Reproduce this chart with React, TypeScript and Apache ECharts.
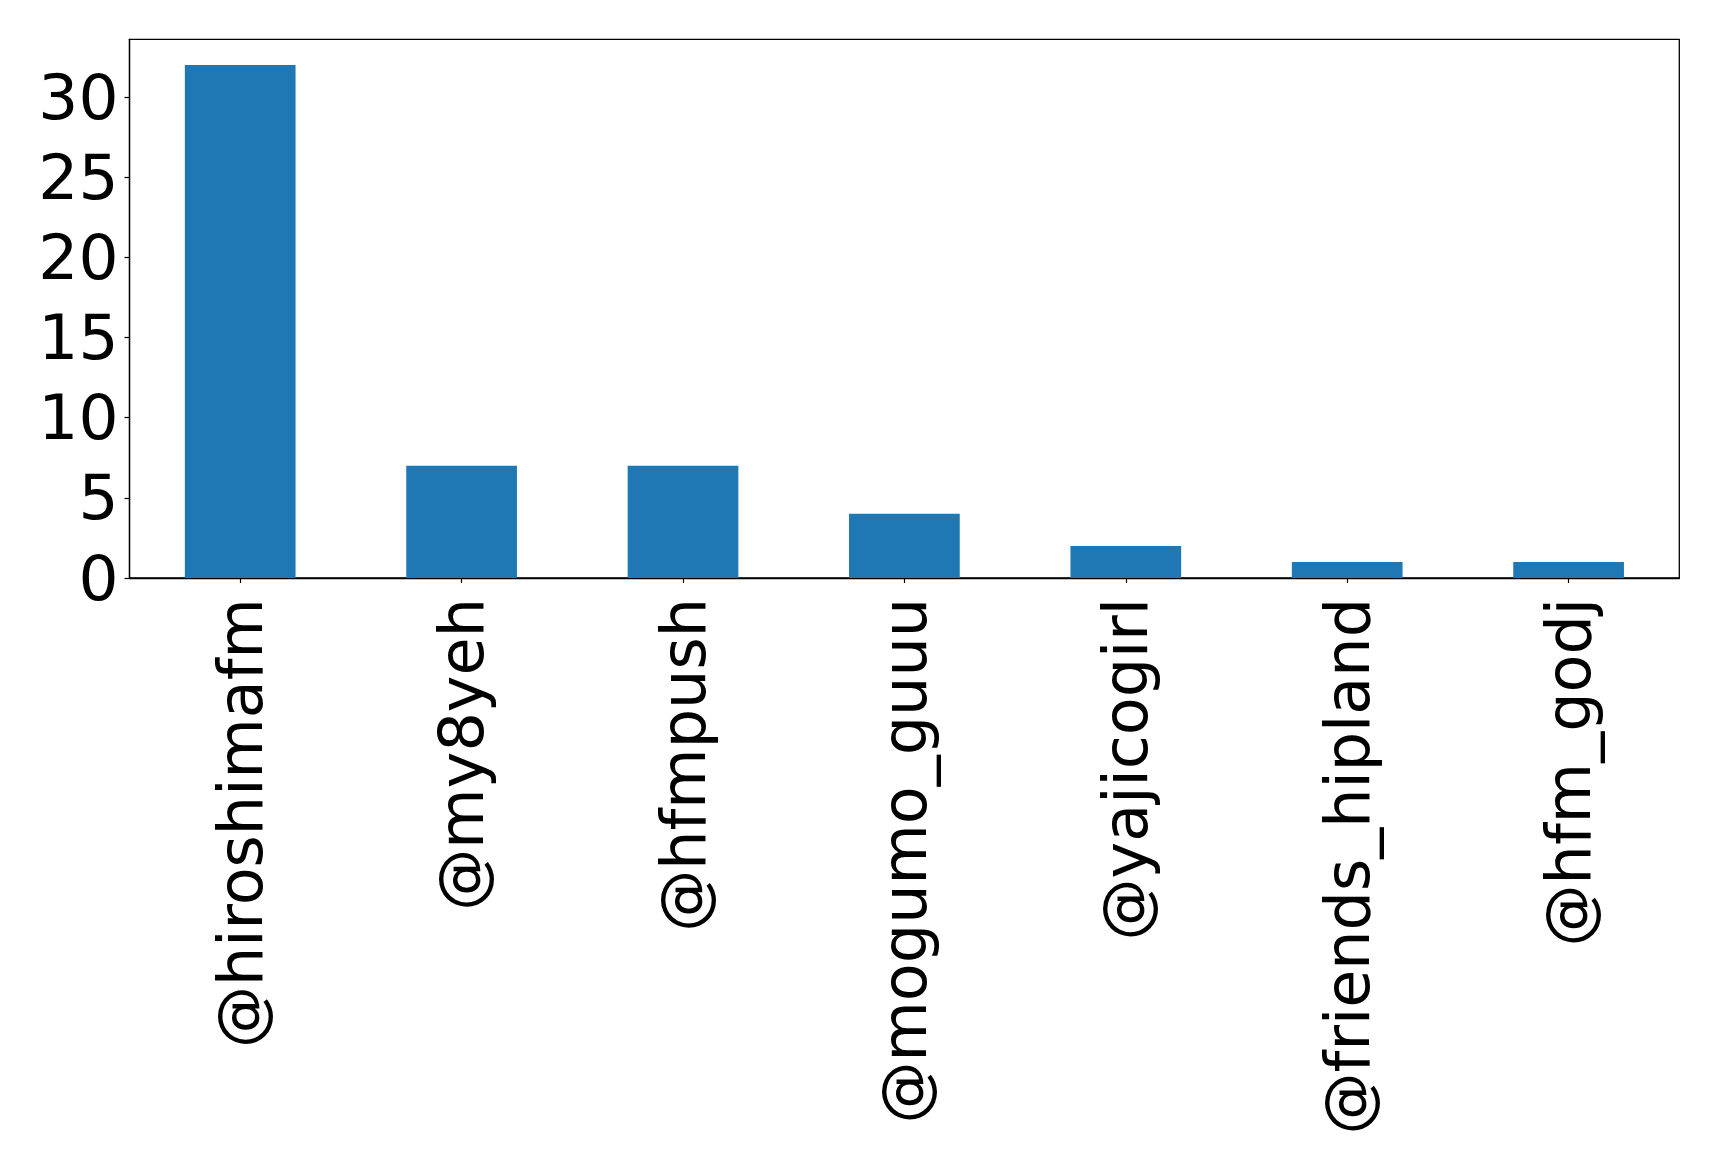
import React, { useEffect, useRef } from "react";
import * as echarts from "echarts";

const categories = [
  "@hiroshimafm",
  "@my8yeh",
  "@hfmpush",
  "@mogumo_guuu",
  "@yajicogirl",
  "@friends_hipland",
  "@hfm_godj",
];
const counts = [32, 7, 7, 4, 2, 1, 1];
const yTicks = [0, 5, 10, 15, 20, 25, 30];

const FONT = "DejaVu Sans";

export default function App() {
  const ref = useRef<HTMLDivElement>(null);

  useEffect(() => {
    if (!ref.current) return;
    const chart = echarts.init(ref.current, undefined, { renderer: "svg" });
    const yMax = Math.max(...counts) * 1.05;
    chart.setOption({
      animation: false,
      backgroundColor: "#ffffff",
      grid: {
        left: 129.5,
        top: 39.3,
        right: 39.7,
        bottom: 590,
        show: true,
        borderColor: "#000000",
        borderWidth: 1.3,
        backgroundColor: "transparent",
      },
      xAxis: {
        type: "category",
        data: categories,
        boundaryGap: true,
        axisLine: { show: true, lineStyle: { color: "#000000", width: 1.3 } },
        axisTick: {
          show: true,
          alignWithLabel: true,
          length: 5,
          lineStyle: { color: "#000000", width: 1.2 },
        },
        axisLabel: {
          rotate: 90,
          interval: 0,
          margin: 20,
          fontFamily: FONT,
          fontSize: 62,
          color: "#000000",
        },
        splitLine: { show: false },
      },
      yAxis: {
        type: "value",
        min: 0,
        max: yMax,
        interval: 5,
        axisLine: { show: true, lineStyle: { color: "#000000", width: 1.3 } },
        axisTick: {
          show: true,
          length: 5,
          customValues: yTicks,
          lineStyle: { color: "#000000", width: 1.2 },
        },
        axisLabel: {
          margin: 11,
          customValues: yTicks,
          fontFamily: FONT,
          fontSize: 63,
          color: "#000000",
        },
        splitLine: { show: false },
      },
      series: [
        {
          type: "bar",
          data: counts,
          barWidth: "50%",
          itemStyle: { color: "#1f77b4" },
        },
      ],
    });
    return () => chart.dispose();
  }, []);

  return (
    <div
      ref={ref}
      style={{ position: "fixed", left: 0, top: 0, width: 1719, height: 1168 }}
    />
  );
}
